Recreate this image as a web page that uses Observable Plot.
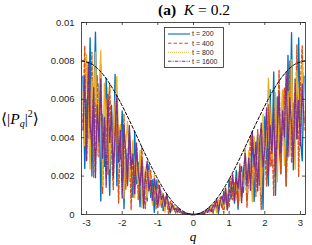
<!DOCTYPE html>
<html><head><meta charset="utf-8">
<script src="https://cdn.jsdelivr.net/npm/d3@7"></script>
<script src="https://cdn.jsdelivr.net/npm/@observablehq/plot@0.6"></script>
<style>
body{margin:0;background:#fff;}
#wrap{position:relative;width:312px;height:245px;overflow:hidden;font-family:"Liberation Sans",Arial,sans-serif;}
#wrap svg{display:block;}
.ov{position:absolute;white-space:nowrap;font-family:"Liberation Serif","DejaVu Serif",serif;color:#000;line-height:1;}
#title{top:2px;left:194px;transform:translateX(-50%);font-size:15.5px;}
#ylab{top:109px;left:1px;font-size:15.5px;}
#ylab sub{font-size:10px;vertical-align:-3px;}
#ylab sup{font-size:10px;vertical-align:7px;}
#xlab{top:230px;left:193px;transform:translateX(-50%);font-size:13px;font-style:italic;}
#legend{position:absolute;left:164px;top:27px;}
</style></head><body><div id="wrap"></div>
<script>
const q = [-3.10,-3.05,-3.00,-2.95,-2.90,-2.85,-2.80,-2.75,-2.70,-2.65,
-2.60,-2.55,-2.50,-2.45,-2.40,-2.35,-2.30,-2.25,-2.20,-2.15,
-2.10,-2.05,-2.00,-1.95,-1.90,-1.85,-1.80,-1.75,-1.70,-1.65,
-1.60,-1.55,-1.50,-1.45,-1.40,-1.35,-1.30,-1.25,-1.20,-1.15,
-1.10,-1.05,-1.00,-0.95,-0.90,-0.85,-0.80,-0.75,-0.70,-0.65,
-0.60,-0.55,-0.50,-0.45,-0.40,-0.35,-0.30,-0.25,-0.20,-0.15,
-0.10,-0.05,0,
0.05,0.10,0.15,0.20,0.25,0.30,0.35,0.40,0.45,0.50,
0.55,0.60,0.65,0.70,0.75,0.80,0.85,0.90,0.95,1.00,
1.05,1.10,1.15,1.20,1.25,1.30,1.35,1.40,1.45,1.50,
1.55,1.60,1.65,1.70,1.75,1.80,1.85,1.90,1.95,2.00,
2.05,2.10,2.15,2.20,2.25,2.30,2.35,2.40,2.45,2.50,
2.55,2.60,2.65,2.70,2.75,2.80,2.85,2.90,2.95,3.00,
3.05,3.10];

const t200 = [0.0072,0.0024,0.0060,0.0040,0.0092,0.0020,0.0055,0.0095,0.0034,0.0068,
0.0007,0.0052,0.0025,0.0071,0.0042,0.0010,0.0057,0.0026,0.0073,0.0015,
0.0045,0.0029,0.0054,0.0003,0.0034,0.0015,0.0044,0.0026,0.0009,0.0043,
0.0016,0.0027,0.0004,0.0030,0.0015,0.0019,0.0007,0.0026,0.0009,0.0018,
0.00011,0.0018,0.00092,0.0005,0.0012,0.0002,0.00079,0.00102,0.00038,0.00008,
0.00049,0.00032,0.00012,0.00036,0.00011,0.00015,0.000027,0.000099,0.000036,0.000014,
0.000014,0.000001,0,
0.000002,0.000016,0.000009,0.000076,0.000062,0.000018,0.00018,0.00011,0.0004,0.00029,
0.00012,0.00059,0.00037,0.00005,0.00075,0.00036,0.00122,0.00083,0.00025,0.00184,
0.0008,0.00142,0.00059,0.0023,0.00027,0.00176,0.0025,0.00116,0.00334,0.00074,
0.00274,0.00185,0.00432,0.00068,0.00283,0.00417,0.00153,0.00397,0.00027,0.0051,
0.00292,0.0015,0.0065,0.00254,0.00742,0.001,0.00613,0.00382,0.00212,0.00648,
0.00439,0.00149,0.00828,0.00343,0.00947,0.00233,0.0047,0.00394,0.0092,0.00398,
0.00279,0.0072];

const t400 = [0.0048,0.00878,0.00279,0.00634,0.00394,0.00846,0.00194,0.00539,0.00724,0.00301,
0.0078,0.0011,0.00432,0.00602,0.00209,0.00681,0.00333,0.0013,0.00572,0.00402,
0.0006,0.00468,0.00227,0.00521,0.00132,0.00281,0.00417,0.00024,0.00316,0.00194,
0.00371,0.00078,0.00223,0.00352,0.00116,0.00031,0.0022,0.00137,0.0023,0.00071,
0.00142,0.0003,0.00175,0.00092,0.00038,0.00109,0.00049,0.00064,0.000047,0.00073,
0.00024,0.00041,0.000074,0.0004,0.00016,0.000073,0.00015,0.000012,0.000048,0.000018,
0.000018,0.0000015,0,
0.0000035,0.000004,0.000041,0.000036,0.000019,0.000143,0.00012,0.00032,0.00012,0.00032,
0.000059,0.00063,0.00045,0.00024,0.00091,0.00049,0.000068,0.00114,0.001,0.00037,
0.00191,0.00077,0.00166,0.00128,0.00041,0.00264,0.00094,0.00199,0.00281,0.00037,
0.00215,0.00412,0.00151,0.00316,0.00094,0.00442,0.0023,0.00026,0.00438,0.0034,
0.00146,0.00572,0.00248,0.00413,0.00098,0.00567,0.00341,0.00751,0.00212,0.00504,
0.00659,0.00149,0.00452,0.008,0.00269,0.00583,0.00392,0.00883,0.00198,0.00677,
0.00878,0.0044];

const t800 = [0.0064,0.00359,0.00836,0.00476,0.00237,0.00705,0.00544,0.00847,0.00305,0.0064,
0.00854,0.00146,0.00684,0.0046,0.0066,0.00238,0.005,0.00326,0.00572,0.00718,
0.00361,0.00468,0.00255,0.00082,0.00371,0.00485,0.00172,0.00259,0.00384,0.00086,
0.00268,0.00157,0.00335,0.00035,0.00249,0.00156,0.00088,0.00233,0.00153,0.00047,
0.00208,0.0009,0.00129,0.00042,0.00121,0.00075,0.00012,0.00097,0.00038,0.00053,
0.00021,0.0005,0.00025,0.00008,0.00024,0.00011,0.00016,0.000019,0.000048,0.000016,
0.000016,0.0000025,0,
0.0000015,0.000017,0.000023,0.000012,0.00011,0.000107,0.000085,0.00025,0.00008,0.00047,
0.0003,0.00049,0.000082,0.0008,0.00048,0.00079,0.00041,0.00144,0.00025,0.00138,
0.00111,0.00197,0.00083,0.00153,0.00219,0.00073,0.00219,0.00149,0.00352,0.00112,
0.00333,0.00226,0.00065,0.00406,0.00306,0.00196,0.00408,0.00106,0.00521,0.00283,
0.00409,0.0071,0.00526,0.00286,0.00391,0.00633,0.0017,0.00521,0.00389,0.00648,
0.00256,0.00483,0.0064,0.00305,0.00808,0.00466,0.00235,0.00749,0.00555,0.00358,
0.00798,0.0048];

const t1600 = [0.0044,0.00718,0.00279,0.00793,0.00473,0.00352,0.0066,0.00192,0.00571,0.00376,
0.00706,0.00293,0.00504,0.00142,0.00626,0.00375,0.00533,0.00195,0.00413,0.00619,
0.00271,0.00438,0.00085,0.00466,0.00318,0.00179,0.00466,0.00236,0.00316,0.00108,
0.00371,0.00215,0.00149,0.00281,0.00033,0.00203,0.00278,0.00123,0.00179,0.00071,
0.00186,0.00121,0.00037,0.00151,0.00076,0.00102,0.00042,0.00107,0.00052,0.00012,
0.00056,0.00027,0.00032,0.00012,0.00028,0.00012,0.000125,0.000025,0.000068,0.000018,
0.000012,0.0000015,0,
0.000003,0.000007,0.000041,0.00004,0.000093,0.000036,0.00023,0.00014,0.00028,0.00015,
0.0005,0.00038,0.00082,0.00024,0.0007,0.00097,0.00054,0.00136,0.00025,0.00129,
0.00111,0.00208,0.00071,0.00191,0.00137,0.00249,0.00062,0.00216,0.00317,0.00149,
0.00294,0.00124,0.00432,0.00248,0.00377,0.00123,0.00357,0.00476,0.00247,0.0034,
0.00555,0.00211,0.00464,0.00318,0.00554,0.002,0.00443,0.00626,0.00319,0.0054,
0.00403,0.00743,0.00301,0.00609,0.00462,0.00272,0.00705,0.00394,0.00595,0.00358,
0.00679,0.0048];

const qc = [-3.14,-2.88,-2.64,-2.40,-2.16,-1.92,-1.68,-1.44,-1.20,-0.96,-0.72,-0.48,-0.24,0,
0.24,0.48,0.72,0.96,1.20,1.44,1.68,1.92,2.16,2.40,2.64,2.88,3.14];
const cv = [0.0080,0.00786,0.00751,0.00695,0.00622,0.00537,0.00444,0.00348,0.00255,0.00171,0.00099,0.00045,0.00012,0,
0.00012,0.00045,0.00099,0.00171,0.00255,0.00348,0.00444,0.00537,0.00622,0.00695,0.00751,0.00786,0.0080];

const names = ["t = 200","t = 400","t = 800","t = 1600"];
const colors = ["#0072BD","#D95319","#EDB120","#7E2F8E"];
const dashes = [null,"3.5,2","1,1","3.5,1.2,1,1.2"];
const xTicks = [-3,-2,-1,0,1,2,3];
const yTicks = [0,0.002,0.004,0.006,0.008,0.01];
const seriesValues = [t200,t400,t800,t1600];

const rows = seriesValues.flatMap((vals,s)=>vals.map((v,i)=>({q:q[i],v,s:names[s]})));
const curveRows = qc.map((x,i)=>({q:x,v:cv[i]}));
const axisColor = "#262626";

const chart = Plot.plot({
  width:312,height:245,marginTop:22,marginBottom:31,marginLeft:81,marginRight:7,
  style:{fontFamily:"'Liberation Sans',Arial,sans-serif",fontSize:"9.5px",color:axisColor,background:"#fff"},
  x:{domain:[-Math.PI,Math.PI]},
  y:{domain:[0,0.01]},
  marks:[
    ...names.map((n,s)=>Plot.line(rows.filter(r=>r.s===n),{x:"q",y:"v",stroke:colors[s],strokeWidth:1.35,strokeDasharray:dashes[s]})),
    Plot.line(curveRows,{x:"q",y:"v",curve:"natural",stroke:"#000",strokeWidth:1,strokeDasharray:"3,2"}),
    Plot.frame({stroke:axisColor,strokeWidth:0.8}),
    Plot.tickX(xTicks,{x:d=>d,insetTop:189,stroke:axisColor,strokeWidth:0.8}),
    Plot.tickX(xTicks,{x:d=>d,insetBottom:189,stroke:axisColor,strokeWidth:0.8}),
    Plot.tickY(yTicks,{y:d=>d,insetRight:221,stroke:axisColor,strokeWidth:0.8}),
    Plot.tickY(yTicks,{y:d=>d,insetLeft:221,stroke:axisColor,strokeWidth:0.8}),
    Plot.axisX({ticks:xTicks,tickSize:0,tickPadding:5,tickFormat:d=>String(d),label:null}),
    Plot.axisY({ticks:yTicks,tickSize:0,tickPadding:7,tickFormat:d=>String(+d.toFixed(3)),label:null})
  ]
});
const wrap = document.getElementById("wrap");
wrap.appendChild(chart);

function addDiv(id,html){const d=document.createElement("div");d.id=id;d.className="ov";d.innerHTML=html;wrap.appendChild(d);}
addDiv("title","<b>(a)</b>&nbsp; <i>K</i> = 0.2");
addDiv("ylab","\u27E8|<i>P</i><sub><i>q</i></sub>|<sup>2</sup>\u27E9");
addDiv("xlab","q");

// legend
const lw=60, lh=41, rowY=[7,16.3,25.3,34.3];
const leg = d3.select(wrap).append("svg").attr("id","legend").attr("width",lw).attr("height",lh);
leg.append("rect").attr("x",0.5).attr("y",0.5).attr("width",lw-1).attr("height",lh-1).attr("fill","#fff").attr("stroke",axisColor).attr("stroke-width",0.8);
names.forEach((n,i)=>{
  leg.append("line").attr("x1",4).attr("x2",26).attr("y1",rowY[i]).attr("y2",rowY[i])
    .attr("stroke",colors[i]).attr("stroke-width",1.1).attr("stroke-dasharray",dashes[i]);
  leg.append("text").attr("x",28).attr("y",rowY[i]).attr("dy","0.35em")
    .attr("font-family","'Liberation Sans',Arial,sans-serif").attr("font-size",7).attr("fill",axisColor).text(n);
});
</script></body></html>
